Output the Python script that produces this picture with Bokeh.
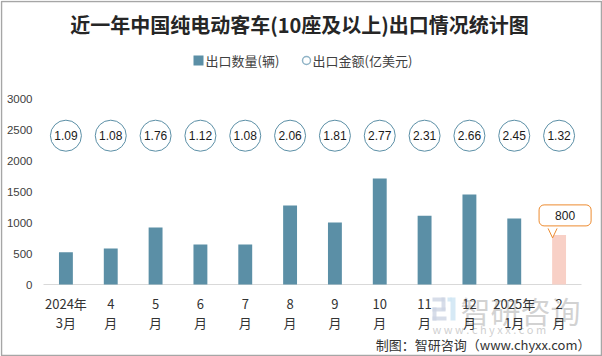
from bokeh.plotting import figure
from bokeh.models import Label, Range1d
from bokeh.embed import file_html
from bokeh.resources import INLINE
from bokeh.core.properties import value

# ---- data ----
months = ["2024年\n3月", "4\n月", "5\n月", "6\n月", "7\n月", "8\n月", "9\n月",
          "10\n月", "11\n月", "12\n月", "2025年\n1月", "2\n月"]
quantity = [520, 580, 920, 645, 645, 1275, 1000, 1710, 1110, 1450, 1065, 800]
amount = [1.09, 1.08, 1.76, 1.12, 1.08, 2.06, 1.81, 2.77, 2.31, 2.66, 2.45, 1.32]
y_ticks = [0, 500, 1000, 1500, 2000, 2500, 3000]

# ---- layout (pixel positions in the page, converted through the scales) ----
W, H = 602, 356
OX, OY = 0, 0                 # page offset of the canvas
PLOT_L, PLOT_R = 43, 581      # category axis extent (page px)
PLOT_B, PLOT_T = 284, 98      # y = 0 and y = 3000 (page px)
CIRCLE_Y = 2400
BAR_COLOR = "#5B8FA6"
LAST_COLOR = "#F8D0C6"
CJK = "Noto Sans CJK SC"
NUM = "Liberation Sans"

n = len(months)
PX_X = (PLOT_R - PLOT_L) / n
PX_Y = (PLOT_B - PLOT_T) / y_ticks[-1]


def dx(page_x):
    return (page_x - PLOT_L) / PX_X


def dy(page_y):
    return (PLOT_B - page_y) / PX_Y


xs = [i + 0.5 for i in range(n)]
colors = [BAR_COLOR] * (n - 1) + [LAST_COLOR]

p = figure(width=W, height=H, output_backend="svg", toolbar_location=None,
           x_range=Range1d(dx(OX), dx(OX + W)), y_range=Range1d(dy(OY + H), dy(OY)),
           x_axis_location=None, y_axis_location=None, title=None,
           min_border=0)
p.outline_line_color = None
p.grid.visible = False
p.background_fill_color = "white"
p.border_fill_color = "white"

# outer frame of the picture
p.rect(x=[dx(W / 2)], y=[dy(H / 2)], width=dx(W - 1) - dx(1), height=dy(1) - dy(H - 1),
       fill_color=None, line_color="#a6a6a6", line_width=1.5)

# watermark (logo, name, url)
logo_l = [432, 441, 432, 432, 432, 450, 447]
logo_r = [444, 445, 445, 436, 446, 455, 451]
logo_t = [297, 297, 307, 307, 316, 297, 297]
logo_b = [301, 310, 311, 320, 320, 320, 301]
logo_c = ["#cdd5e3"] * 5 + ["#cce3f2"] * 2
p.quad(left=[dx(v) for v in logo_l], right=[dx(v) for v in logo_r],
       top=[dy(v) for v in logo_t], bottom=[dy(v) for v in logo_b],
       fill_color=logo_c, line_color=None, fill_alpha=0.8)
p.text(x=[dx(460)], y=[dy(309)], text=["智研咨询"], text_font=value(CJK),
       text_font_size="30px", text_color="#c4c4c4", text_alpha=0.75,
       text_align="left", text_baseline="middle")
p.text(x=[dx(432)], y=[dy(328)], text=["w w w . c h y x x . c o m"], text_font=value(CJK),
       text_font_size="11px", text_color="#c4c4c4", text_alpha=0.8,
       text_align="left", text_baseline="middle")

# axis line
p.segment(x0=[0], y0=[0], x1=[n], y1=[0], line_color="#d9d9d9", line_width=1)

# bars
p.vbar(x=xs, top=quantity, width=0.31, fill_color=colors, line_color=None)

# export amount bubbles
p.scatter(x=xs, y=[CIRCLE_Y] * n, size=31, marker="circle",
          fill_color="white", line_color=BAR_COLOR, line_width=1)
p.text(x=xs, y=[CIRCLE_Y] * n, text=[f"{v:.2f}" for v in amount],
       text_align="center", text_baseline="middle", text_font_size="12px",
       text_font=value(NUM), text_color="#1a1a1a")

# y tick labels
p.text(x=[dx(32)] * len(y_ticks), y=y_ticks, text=[str(t) for t in y_ticks],
       text_align="right", text_baseline="middle", text_font_size="11.5px",
       text_font=value(NUM), text_color="#404040")

# x tick labels (two lines)
line1 = [m.split("\n")[0] for m in months]
line2 = [m.split("\n")[1] for m in months]
p.text(x=xs, y=[dy(303)] * n, text=line1, text_align="center", text_baseline="middle",
       text_font_size="13px", text_font=value(CJK), text_color="#333333")
p.text(x=xs, y=[dy(322)] * n, text=line2, text_align="center", text_baseline="middle",
       text_font_size="13px", text_font=value(CJK), text_color="#333333")

# title
p.text(x=[dx(299)], y=[dy(24)], text=["近一年中国纯电动客车(10座及以上)出口情况统计图"],
       text_align="center", text_baseline="middle", text_font_size="20px",
       text_font=value(CJK), text_font_style="bold", text_color="#262626")

# legend
p.scatter(x=[dx(198)], y=[dy(60)], marker="square", size=10, fill_color=BAR_COLOR,
          line_color=None)
p.text(x=[dx(205)], y=[dy(60)], text=["出口数量(辆)"], text_align="left",
       text_baseline="middle", text_font_size="13px", text_font=value(CJK),
       text_color="#404040")
p.scatter(x=[dx(306)], y=[dy(60)], marker="circle", size=8, fill_color="white",
          line_color="#8fb3c6", line_width=1.5)
p.text(x=[dx(312)], y=[dy(60)], text=["出口金额(亿美元)"], text_align="left",
       text_baseline="middle", text_font_size="13px", text_font=value(CJK),
       text_color="#404040")

# footer
p.text(x=[dx(590)], y=[dy(344)], text=["制图：智研咨询（www.chyxx.com）"],
       text_align="right", text_baseline="middle", text_font_size="13px",
       text_font=value(CJK), text_color="#333333")

# callout for last bar
last_x, last_v = xs[-1], quantity[-1]
box = Label(x=last_x, y=last_v, x_offset=6, y_offset=19.5, text=f"{last_v}",
            text_align="center", text_baseline="middle", text_font_size="12px",
            text_font=NUM, text_color="#1a1a1a",
            border_line_color="#ED8B2F", border_line_width=1,
            background_fill_color="white", padding=(16, 6), border_radius=5)
p.add_layout(box)

base_y = last_v + 6.5 / PX_Y
tip_y = last_v - 3 / PX_Y
bx0 = last_x - 11 / PX_X
bx1 = last_x - 2 / PX_X
tx = last_x - 6.5 / PX_X
p.patch(x=[bx0, tx, bx1], y=[base_y + 1.5 / PX_Y, tip_y, base_y + 1.5 / PX_Y],
        fill_color="white", line_color=None, level="overlay")
p.line(x=[bx0, tx, bx1], y=[base_y, tip_y, base_y], line_color="#ED8B2F",
       line_width=1, level="overlay")

open("out.html", "w").write(file_html(p, INLINE))
